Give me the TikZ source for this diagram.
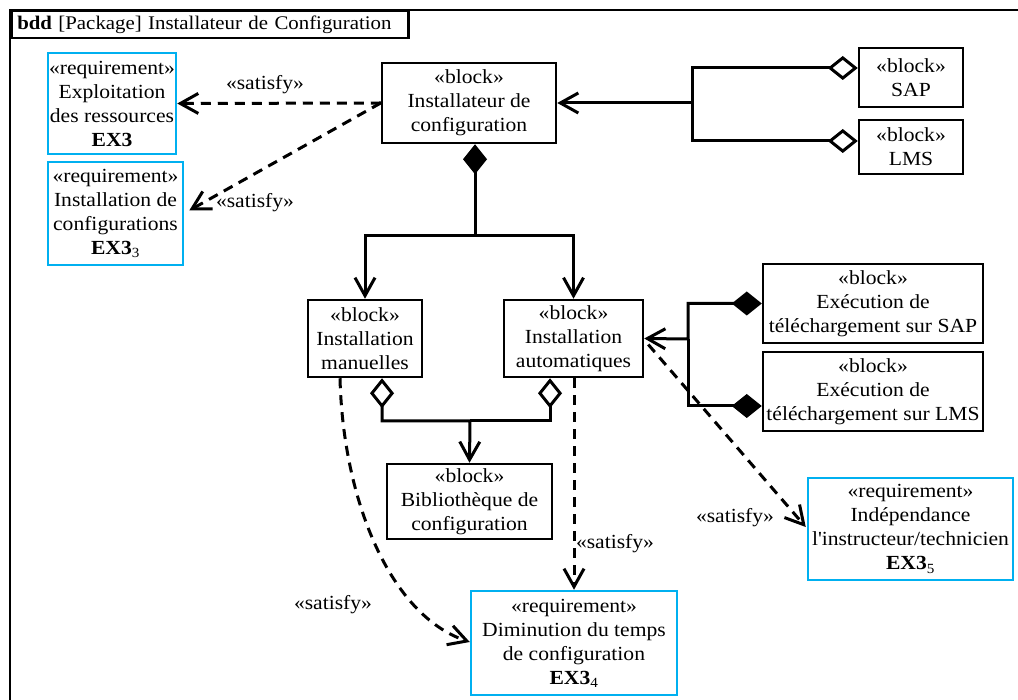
\documentclass[tikz,border=0pt]{standalone}
\usepackage{fontspec}
\setmainfont{Liberation Serif}[FakeStretch=1.08]
\usetikzlibrary{positioning,calc,arrows.meta}
\definecolor{reqblue}{RGB}{0,176,240}

\begin{document}
\begin{tikzpicture}[x=1pt, y=-1pt,
		every node/.style={font=\fontsize{20}{24}\selectfont, align=center, inner sep=0pt},
		blk/.style={shape=rectangle, draw, line width=2.5pt},
		req/.style={shape=rectangle, draw=reqblue, line width=2.5pt},
		link/.style={line width=3pt},
		vee/.style={-{Straight Barb[length=18pt, width=20pt]}},
		sat/.style={line width=3pt, dash pattern=on 10pt off 7pt, vee},
		agg/.style={{Diamond[open, length=30pt, width=24pt]}-},
		comp/.style={{Diamond[length=30pt, width=24pt]}-},
		aggvee/.style={{Diamond[open, length=30pt, width=24pt]}-{Straight Barb[length=18pt, width=20pt]}},
		compvee/.style={{Diamond[length=30pt, width=24pt]}-{Straight Barb[length=18pt, width=20pt]}}]
		\useasboundingbox (0, 0) rectangle (1018, 700);
		\draw[line width=2.5pt] (10, 700) -- (10, 10) -- (1018, 10);
		\node[blk, anchor=north west, minimum width=397pt, minimum height=27pt, text width=385pt, align=left, font=\fontsize{19.3}{24}\selectfont] (T) at (10, 10) {\textbf{bdd} [Package] Installateur de Configuration};

		\node[blk, minimum width=174pt, minimum height=80pt] (Inst) at (469, 103) {«block»\\Installateur de\\configuration};
		\node[blk, minimum width=104pt, minimum height=59pt] (SAP) at (911, 77.5) {«block»\\SAP};
		\node[blk, minimum width=104pt, minimum height=54pt] (LMS) at (911, 147) {«block»\\LMS};
		\node[blk, minimum width=114pt, minimum height=77pt] (Man) at (365, 338.5) {«block»\\Installation\\manuelles};
		\node[blk, minimum width=139pt, minimum height=77pt] (Auto) at (573.5, 338.5) {«block»\\Installation\\automatiques};
		\node[blk, minimum width=165pt, minimum height=75pt] (Bib) at (469.5, 501.5) {«block»\\Bibliothèque de\\configuration};
		\node[blk, minimum width=220pt, minimum height=79pt] (ExS) at (873, 303.5) {«block»\\Exécution de\\téléchargement sur SAP};
		\node[blk, minimum width=220pt, minimum height=79pt] (ExL) at (873, 391.5) {«block»\\Exécution de\\téléchargement sur LMS};

		\node[req, minimum width=128pt, minimum height=101pt] (R1) at (112, 103.5) {«requirement»\\Exploitation\\des ressources\\\textbf{EX3}};
		\node[req, minimum width=135pt, minimum height=103pt] (R3) at (115.5, 213.5) {«requirement»\\Installation de\\configurations\\\textbf{EX3}\textsubscript{3}};
		\node[req, minimum width=206pt, minimum height=104pt] (R4) at (574, 643) {«requirement»\\Diminution du temps\\de configuration\\\textbf{EX3}\textsubscript{4}};
		\node[req, minimum width=205pt, minimum height=102pt] (R5) at (910.5, 529) {«requirement»\\Indépendance\\l\textquotesingle instructeur/technicien\\\textbf{EX3}\textsubscript{5}};

		\coordinate (J1) at (692, 103);
		\draw[link, aggvee] ([yshift=9.5pt]SAP.west) -| (J1) -- (Inst.east);
		\draw[link, agg] ([yshift=6pt]LMS.west) -| (J1);

		\coordinate (J2) at (475, 236);
		\draw[link, compvee] ([xshift=6pt]Inst.south) -- (J2) -| (Man.north);
		\draw[link, vee] (J2) -| (Auto.north);

		\coordinate (J3) at (470, 421);
		\draw[link, aggvee] ([xshift=17pt]Man.south) |- (J3) -- (Bib.north);
		\draw[link, agg] ([xshift=-23.5pt]Auto.south) |- (J3);

		\coordinate (J4) at (688, 339);
		\draw[link, compvee] (ExS.west) -| (J4) -- (Auto.east);
		\draw[link, comp] ([yshift=-14.5pt]ExL.west) -| (J4);

		\draw[sat] (Inst.west) -- (R1.east);
		\draw[sat] (Inst.west) -- ([xshift=5pt, yshift=3pt]R3.east);
		\draw[sat] ([xshift=-25pt]Man.south) .. controls (343, 500) and (390, 615) .. ([yshift=1pt]R4.west);
		\draw[sat] ([xshift=0.5pt]Auto.south) -- (R4.north);
		\draw[sat] ([xshift=4pt, yshift=-6pt]Auto.east) -- ([xshift=-1pt, yshift=2pt]R5.west);

		\node (S1) at (265, 85) {«satisfy»};
		\node (S3) at (255, 203) {«satisfy»};
		\node (S4a) at (333, 605) {«satisfy»};
		\node (S4b) at (615, 544) {«satisfy»};
		\node (S5) at (735, 518) {«satisfy»};
	\end{tikzpicture}
\end{document}
